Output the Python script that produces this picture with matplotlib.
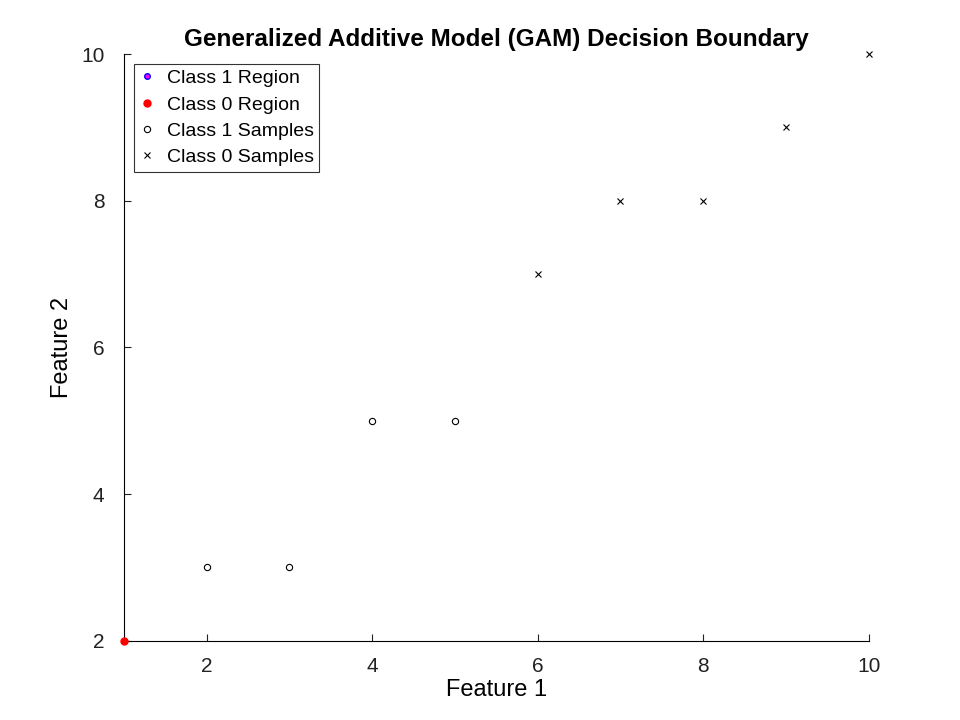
import matplotlib
matplotlib.use("Agg")
import matplotlib.pyplot as plt

c1_x = [2, 3, 4, 5]
c1_y = [3, 3, 5, 5]
c0_x = [6, 7, 8, 9, 10]
c0_y = [7, 8, 8, 9, 10]
reg1_x, reg1_y = [], []
reg0_x, reg0_y = [1], [2]

plt.rcParams["font.family"] = ["Liberation Sans", "DejaVu Sans"]
fig = plt.figure(figsize=(9.6, 7.2), dpi=100)
ax = fig.add_axes([0.129, 0.11, 0.776, 0.815])

ax.plot(reg1_x, reg1_y, "o", ms=4, mfc="#ff00ff", mec="#0000ff", ls="none", label="Class 1 Region")
ax.plot(reg0_x, reg0_y, "o", ms=5, mfc="red", mec="red", ls="none", label="Class 0 Region", clip_on=False, zorder=5)
ax.plot(c1_x, c1_y, "o", ms=4.5, mfc="white", mec="black", mew=0.8, ls="none", label="Class 1 Samples", clip_on=False)
ax.plot(c0_x, c0_y, "x", ms=4.5, color="black", mew=0.8, ls="none", label="Class 0 Samples", clip_on=False)

ax.set_xlim(1, 10)
ax.set_ylim(2, 10)
ax.set_xticks([2, 4, 6, 8, 10])
ax.set_yticks([2, 4, 6, 8, 10])
for s in ["top", "right"]:
    ax.spines[s].set_visible(False)
ax.tick_params(axis="x", labelsize=15, direction="in", length=5, pad=12, colors="#222222")
ax.tick_params(axis="y", labelsize=15, direction="in", length=5, pad=14, colors="#222222")
ax.set_xlabel("Feature 1", fontsize=17, labelpad=2)
ax.set_ylabel("Feature 2", fontsize=17, labelpad=6)
ax.set_title("Generalized Additive Model (GAM) Decision Boundary", fontsize=17.5, fontweight="bold")

leg = ax.legend(loc="upper left", fontsize=14, frameon=True, fancybox=False,
                edgecolor="black", handlelength=0.8, handletextpad=0.6,
                borderaxespad=0.5, labelspacing=0.45, borderpad=0.3)
leg.get_frame().set_linewidth(0.8)

fig.savefig("out.png", dpi=100)
